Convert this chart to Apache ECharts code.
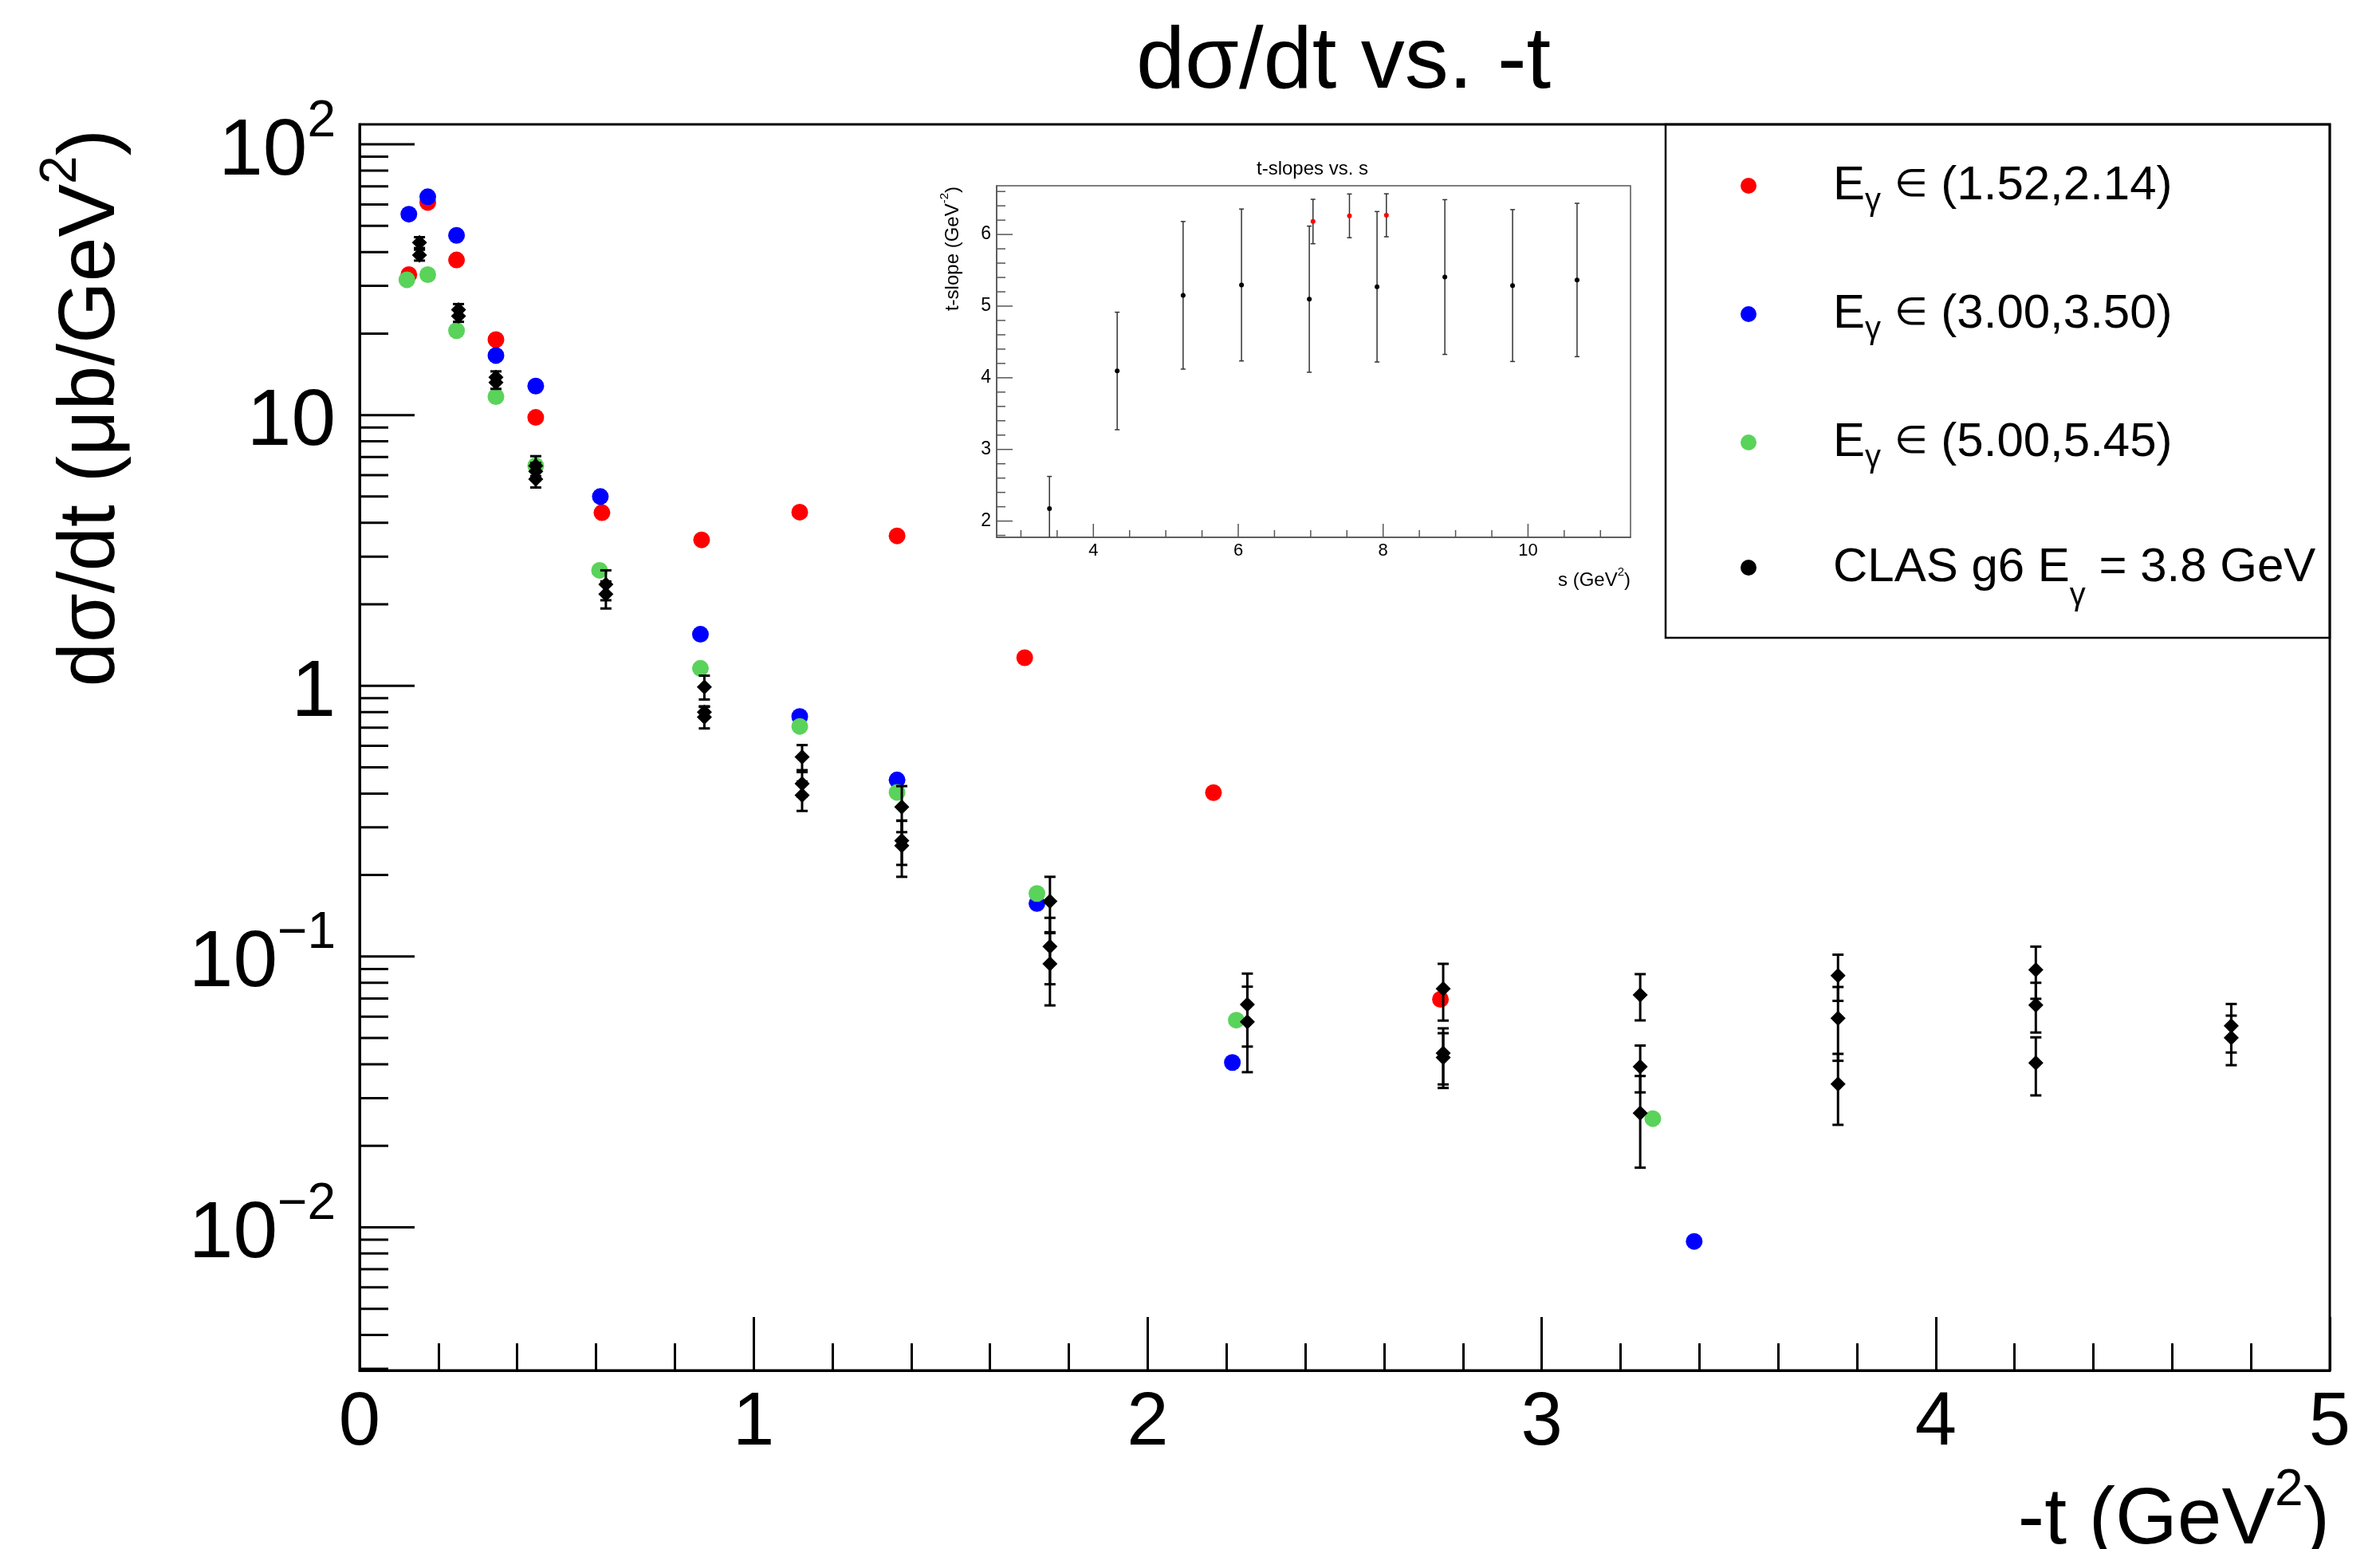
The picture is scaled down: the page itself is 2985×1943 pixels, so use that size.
<!DOCTYPE html>
<html>
<head>
<meta charset="utf-8">
<title>dσ/dt vs. -t</title>
<script src="https://cdn.jsdelivr.net/npm/echarts@6/dist/echarts.min.js"></script>
<style>
  html, body { margin: 0; padding: 0; background: #fff; }
  #chart { width: 2985px; height: 1943px; }
</style>
</head>
<body>
<div id="chart"></div>
<script>
// ---- values ----
const seriesNames = ['Eγ ∈ (1.52,2.14)', 'Eγ ∈ (3.00,3.50)', 'Eγ ∈ (5.00,5.45)', 'CLAS g6 Eγ = 3.8 GeV'];

const redT = [0.125, 0.173, 0.246, 0.346, 0.447, 0.615, 0.868, 1.117, 1.364, 1.688, 2.167, 2.743];
const redY = [33, 61, 37.4, 19, 9.8, 4.36, 3.46, 4.38, 3.58, 1.27, 0.403, 0.0695];

const blueT = [0.125, 0.173, 0.246, 0.346, 0.447, 0.611, 0.865, 1.117, 1.364, 1.719, 2.215, 3.387];
const blueY = [55.2, 64, 46.1, 16.6, 12.8, 5.0, 1.55, 0.77, 0.449, 0.157, 0.0406, 0.00887];

const greenT = [0.120, 0.173, 0.246, 0.346, 0.447, 0.609, 0.865, 1.117, 1.364, 1.719, 2.225, 3.282];
const greenY = [31.6, 33, 20.5, 11.7, 6.5, 2.67, 1.16, 0.708, 0.404, 0.171, 0.0582, 0.0252];

const clasT = [0.152, 0.152, 0.251, 0.251, 0.346, 0.346, 0.447, 0.447, 0.447, 0.625, 0.625,
  0.875, 0.875, 0.875, 1.123, 1.123, 1.123, 1.376, 1.376, 1.376, 1.752, 1.752, 1.752,
  2.253, 2.253, 2.750, 2.750, 2.750, 3.250, 3.250, 3.250, 3.752, 3.752, 3.752,
  4.254, 4.254, 4.254, 4.750, 4.750];
const clasY = [43.4, 39.0, 24.5, 23.2, 13.8, 13.2, 6.5, 6.2, 5.8, 2.37, 2.18,
  0.99, 0.80, 0.766, 0.546, 0.435, 0.394, 0.357, 0.268, 0.257, 0.160, 0.109, 0.094,
  0.0665, 0.0574, 0.076, 0.044, 0.0424, 0.0721, 0.0392, 0.0264, 0.0851, 0.0592, 0.0338,
  0.0893, 0.0662, 0.0405, 0.0555, 0.0501];
const clasErr = [2.0, 1.8, 1.2, 1.1, 0.7, 0.7, 0.55, 0.45, 0.4, 0.3, 0.25,
  0.1, 0.04, 0.07, 0.058, 0.045, 0.049, 0.069, 0.05, 0.06, 0.037, 0.030, 0.028,
  0.020, 0.020, 0.018, 0.0103, 0.0097, 0.014, 0.0077, 0.0098, 0.0165, 0.018, 0.0099,
  0.0195, 0.0138, 0.0098, 0.0113, 0.0104];

// inset: t-slopes vs. s
const slopeS = [3.394, 4.329, 5.239, 6.045, 6.981, 7.916, 8.852, 9.787, 10.677];
const slopeVal = [2.173, 4.095, 5.151, 5.295, 5.097, 5.270, 5.406, 5.287, 5.365];
const slopeErr = [0.45, 0.82, 1.03, 1.06, 1.02, 1.05, 1.08, 1.06, 1.07];
const slopeRedS = [7.032, 7.535, 8.045];
const slopeRedVal = [6.181, 6.260, 6.268];
const slopeRedErr = [0.31, 0.305, 0.30];

// tick values
const mainMajorY = [0.01, 0.1, 1, 10, 100];
const mainMinorY = [];
for (let e = -3; e <= 1; e++) {
  for (let m = 2; m <= 9; m++) {
    const v = +(m * Math.pow(10, e)).toPrecision(2);
    if (v >= 0.003) mainMinorY.push(v);
  }
}
const insetMajorY = [2, 3, 4, 5, 6];
const insetMinorY = [];
for (let k = 18; k <= 66; k += 2) {
  if (k % 10 !== 0) insetMinorY.push(k / 10);
}
const insetMajorX = [4, 6, 8, 10];
const insetMinorX = [];
for (let k = 6; k <= 22; k++) {
  if (!insetMajorX.includes(k / 2)) insetMinorX.push(k / 2);
}

const FONT = '"Liberation Sans", Arial, Helvetica, sans-serif';
const colors = ['#ff0000', '#0000ff', '#5ad35a', '#000000'];

function pairs(xs, ys) {
  return xs.map((x, i) => [x, ys[i]]);
}
function errRows(xs, ys, es) {
  return xs.map((x, i) => [x, ys[i], ys[i] - es[i], ys[i] + es[i]]);
}

function errorBars(xi, yi, rows, color, width, cap, clip) {
  return {
    type: 'custom', xAxisIndex: xi, yAxisIndex: yi, data: rows, clip: clip, silent: true, z: 7,
    encode: { x: 0, y: [1, 2, 3] },
    renderItem(params, api) {
      const x = api.value(0);
      const lo = api.coord([x, api.value(2)]);
      const hi = api.coord([x, api.value(3)]);
      const s = { stroke: color, lineWidth: width };
      return {
        type: 'group', children: [
          { type: 'line', shape: { x1: lo[0], y1: lo[1], x2: hi[0], y2: hi[1] }, style: s },
          { type: 'line', shape: { x1: lo[0] - cap, y1: lo[1], x2: lo[0] + cap, y2: lo[1] }, style: s },
          { type: 'line', shape: { x1: hi[0] - cap, y1: hi[1], x2: hi[0] + cap, y2: hi[1] }, style: s }
        ]
      };
    }
  };
}

// ticks drawn inward from the left / bottom edge of a grid
function tickSeries(xi, yi, dir, values, anchor, len, color, width) {
  return {
    type: 'custom', xAxisIndex: xi, yAxisIndex: yi, silent: true, z: 3,
    data: values.map(v => dir === 'y' ? [anchor, v] : [v, anchor]),
    encode: { x: 0, y: 1 },
    renderItem(params, api) {
      const cs = params.coordSys;
      const p = api.coord([api.value(0), api.value(1)]);
      const shape = dir === 'y'
        ? { x1: cs.x, y1: p[1], x2: cs.x + len, y2: p[1] }
        : { x1: p[0], y1: cs.y + cs.height, x2: p[0], y2: cs.y + cs.height - len };
      return { type: 'line', shape: shape, style: { stroke: color, lineWidth: width } };
    }
  };
}

function scatter(name, xi, yi, data, color, symbol, size, z) {
  return {
    type: 'scatter', name: name, xAxisIndex: xi, yAxisIndex: yi, data: data,
    symbol: symbol, symbolSize: size, itemStyle: { color: color, opacity: 1 },
    silent: true, z: z
  };
}

const legendRich = [
  '{g|}{t|E}{sub|γ}{t| }{el|∈}{t| (1.52,2.14)}',
  '{g|}{t|E}{sub|γ}{t| }{el|∈}{t| (3.00,3.50)}',
  '{g|}{t|E}{sub|γ}{t| }{el|∈}{t| (5.00,5.45)}',
  '{g2|}{t|CLAS g6 E}{sub|γ}{t| = 3.8 GeV}'
];
const legendLine = [80, 80, 80, 112];
const legendRowY = [243, 404, 565, 738];

const myChart = echarts.init(document.getElementById('chart'));
const option = {
  animation: false,
  backgroundColor: '#fff',
  grid: [
    { left: 451, top: 156, width: 2471, height: 1563, show: true, borderColor: '#000', borderWidth: 3,
      backgroundColor: 'transparent', containLabel: false, outerBoundsMode: 'none' },
    { left: 1250, top: 233, width: 795, height: 441, show: true, borderColor: '#555', borderWidth: 1.5,
      backgroundColor: '#fff', containLabel: false, outerBoundsMode: 'none' }
  ],
  xAxis: [
    {
      type: 'value', gridIndex: 0, min: 0, max: 5, interval: 1,
      axisLine: { show: true, lineStyle: { color: '#000', width: 3 } },
      axisTick: { show: true, inside: true, length: 67, lineStyle: { color: '#000', width: 3 } },
      minorTick: { show: true, splitNumber: 5, length: 34, lineStyle: { color: '#000', width: 3 } },
      axisLabel: { show: true, color: '#000', fontFamily: FONT, fontSize: 94, margin: 20 },
      splitLine: { show: false }
    },
    {
      type: 'value', gridIndex: 1, min: 2.665, max: 11.415,
      axisLine: { show: true, lineStyle: { color: '#555', width: 1.5 } },
      axisTick: { show: false },
      axisLabel: { show: true, color: '#000', fontFamily: FONT, fontSize: 22, margin: 6,
        showMinLabel: false, showMaxLabel: false },
      splitLine: { show: false }
    }
  ],
  yAxis: [
    {
      type: 'log', gridIndex: 0, min: 0.00296, max: 118.5, logBase: 10,
      axisLine: { show: true, lineStyle: { color: '#000', width: 3 } },
      axisTick: { show: false },
      axisLabel: {
        show: true, margin: 30, showMinLabel: false, showMaxLabel: false,
        formatter: function (v) {
          const e = Math.round(Math.log10(v));
          if (e === 0) return '{b|1}';
          if (e === 1) return '{b|10}';
          return '{b|10}{s|' + (e < 0 ? '\u2212' + (-e) : e) + '}';
        },
        rich: {
          b: { fontFamily: FONT, fontSize: 100, lineHeight: 120, verticalAlign: 'bottom', color: '#000' },
          s: { fontFamily: FONT, fontSize: 64, lineHeight: 64, verticalAlign: 'top', color: '#000' }
        }
      },
      splitLine: { show: false }
    },
    {
      type: 'value', gridIndex: 1, min: 1.773, max: 6.68,
      axisLine: { show: true, lineStyle: { color: '#555', width: 1.5 } },
      axisTick: { show: false },
      axisLabel: { show: true, color: '#000', fontFamily: FONT, fontSize: 23, margin: 7,
        showMinLabel: false, showMaxLabel: false },
      splitLine: { show: false }
    }
  ],
  legend: seriesNames.map((name, i) => ({
    data: [name], orient: 'vertical', left: 2183, top: legendRowY[i] - legendLine[i] / 2, padding: 0,
    icon: 'circle', itemWidth: 20, itemHeight: 20, selectedMode: false, z: 6,
    formatter: () => legendRich[i],
    textStyle: {
      color: '#000', fontFamily: FONT,
      rich: {
        g: { width: 91, lineHeight: 80 },
        g2: { width: 91, lineHeight: 112 },
        t: { fontFamily: FONT, fontSize: 60, verticalAlign: 'middle', color: '#000' },
        el: { fontFamily: FONT, fontSize: 48, verticalAlign: 'middle', color: '#000' },
        sub: { fontFamily: FONT, fontSize: 40, verticalAlign: 'bottom', color: '#000' }
      }
    }
  })),
  graphic: [
    { type: 'rect', z: 5, shape: { x: 2089, y: 156, width: 833, height: 644 },
      style: { fill: 'none', stroke: '#000', lineWidth: 2.5 } },
    { type: 'text', x: 1685, y: 80, z: 10,
      style: { text: 'dσ/dt vs. -t', fontFamily: FONT, fontSize: 110, fill: '#000', align: 'center', verticalAlign: 'middle' } },
    { type: 'text', x: 105, y: 162, rotation: Math.PI / 2, z: 10,
      style: {
        text: '{m|dσ/dt (μb/GeV}{s|2}{m|)}', align: 'right', verticalAlign: 'middle', fill: '#000',
        rich: {
          m: { fontFamily: FONT, fontSize: 100, lineHeight: 120, verticalAlign: 'bottom', fill: '#000' },
          s: { fontFamily: FONT, fontSize: 64, lineHeight: 64, verticalAlign: 'top', fill: '#000' }
        }
      } },
    { type: 'text', x: 2922, y: 1898, z: 10,
      style: {
        text: '{m|-t (GeV}{s|2}{m|)}', align: 'right', verticalAlign: 'middle', fill: '#000',
        rich: {
          m: { fontFamily: FONT, fontSize: 100, lineHeight: 120, verticalAlign: 'bottom', fill: '#000' },
          s: { fontFamily: FONT, fontSize: 64, lineHeight: 64, verticalAlign: 'top', fill: '#000' }
        }
      } },
    { type: 'text', x: 1646, y: 212, z: 10,
      style: { text: 't-slopes vs. s', fontFamily: FONT, fontSize: 24, fill: '#000', align: 'center', verticalAlign: 'middle' } },
    { type: 'text', x: 1192, y: 234, rotation: Math.PI / 2, z: 10,
      style: {
        text: '{m|t-slope (GeV}{s|-2}{m|)}', align: 'right', verticalAlign: 'middle', fill: '#000',
        rich: {
          m: { fontFamily: FONT, fontSize: 24, lineHeight: 30, verticalAlign: 'bottom', fill: '#000' },
          s: { fontFamily: FONT, fontSize: 15, lineHeight: 15, verticalAlign: 'top', fill: '#000' }
        }
      } },
    { type: 'text', x: 2045, y: 725, z: 10,
      style: {
        text: '{m|s (GeV}{s|2}{m|)}', align: 'right', verticalAlign: 'middle', fill: '#000',
        rich: {
          m: { fontFamily: FONT, fontSize: 24, lineHeight: 30, verticalAlign: 'bottom', fill: '#000' },
          s: { fontFamily: FONT, fontSize: 15, lineHeight: 15, verticalAlign: 'top', fill: '#000' }
        }
      } }
  ],
  series: [
    // main axis ticks
    tickSeries(0, 0, 'y', mainMajorY, 0, 69, '#000', 3),
    tickSeries(0, 0, 'y', mainMinorY, 0, 36, '#000', 3),
    // inset axis ticks
    tickSeries(1, 1, 'y', insetMajorY, 4, 20, '#555', 1.5),
    tickSeries(1, 1, 'y', insetMinorY, 4, 11, '#555', 1.5),
    tickSeries(1, 1, 'x', insetMajorX, 4, 17, '#555', 1.5),
    tickSeries(1, 1, 'x', insetMinorX, 4, 9, '#555', 1.5),
    // main data
    scatter(seriesNames[0], 0, 0, pairs(redT, redY), colors[0], 'circle', 21, 4),
    scatter(seriesNames[1], 0, 0, pairs(blueT, blueY), colors[1], 'circle', 21, 5),
    scatter(seriesNames[2], 0, 0, pairs(greenT, greenY), colors[2], 'circle', 21, 6),
    errorBars(0, 0, errRows(clasT, clasY, clasErr), '#000', 3, 7, false),
    scatter(seriesNames[3], 0, 0, pairs(clasT, clasY), colors[3], 'diamond', 19, 8),
    // inset data
    errorBars(1, 1, errRows(slopeS, slopeVal, slopeErr), '#333', 1.5, 3, true),
    errorBars(1, 1, errRows(slopeRedS, slopeRedVal, slopeRedErr), '#333', 1.5, 3, true),
    scatter('t-slope', 1, 1, pairs(slopeS, slopeVal), '#000', 'circle', 6, 8),
    scatter('t-slope red', 1, 1, pairs(slopeRedS, slopeRedVal), '#ff0000', 'circle', 6, 8)
  ]
};
myChart.setOption(option);
window.addEventListener('resize', () => {
  myChart.resize();
});
</script>
</body>
</html>
